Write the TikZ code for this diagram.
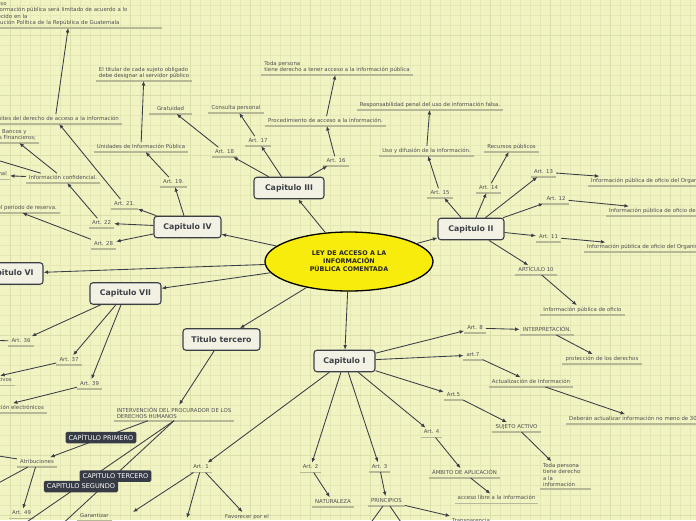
\documentclass[tikz,border=0pt]{standalone}
\usepackage{fontspec}
\setmainfont{DejaVu Sans}
\usetikzlibrary{shapes.geometric,arrows.meta}
\definecolor{bgc}{RGB}{241,243,195}
\definecolor{gridc}{RGB}{229,232,180}
\definecolor{gridm}{RGB}{219,223,168}
\definecolor{linec}{RGB}{58,61,70}
\definecolor{txtc}{RGB}{80,80,80}
\definecolor{ulc}{RGB}{182,184,152}
\definecolor{boxf}{RGB}{243,241,228}
\definecolor{boxd}{RGB}{60,63,70}
\definecolor{darkf}{RGB}{55,59,70}
\definecolor{yel}{RGB}{247,236,12}
\newcommand\smf{\fontsize{5.4}{6.4}\selectfont}
\newcommand\capf{\fontsize{7.8}{9}\selectfont\bfseries}
\begin{document}
\begin{tikzpicture}[x=1pt,y=-1pt,
 ulstyle/.style={append after command={(\tikzlastnode.south west) edge[draw=ulc,line width=1.6pt,-] (\tikzlastnode.south east)}},
 lbl/.style={font=\smf, text=txtc, inner xsep=3pt, inner ysep=2pt, text height=4pt, text depth=1.4pt, anchor=south, ulstyle},
 mlbl/.style={font=\smf, text=txtc, inner xsep=3pt, inner ysep=2pt, align=left, anchor=south, ulstyle},
 capbox/.style={draw=boxd, fill=boxf, line width=1.1pt, rounded corners=3pt, font=\capf, text=boxd, minimum height=21.5pt, inner xsep=2pt},
 darklbl/.style={fill=darkf, text=white, font=\fontsize{6.6}{8}\selectfont, rounded corners=1.5pt, minimum height=11.5pt, inner xsep=3pt, inner ysep=1pt},
 conn/.style={draw=linec, line width=0.85pt, -{Latex[length=4.5pt,width=3.8pt]}},
]
\useasboundingbox (0,0) rectangle (696,520);
\clip (0,0) rectangle (696,520);
\fill[bgc] (0,0) rectangle (696,520);
\foreach \x in {10,20,...,690} \draw[gridc,line width=0.6pt] (\x,0) -- (\x,520);
\foreach \y in {5,15,...,515} \draw[gridc,line width=0.6pt] (0,\y) -- (696,\y);
\foreach \x in {10,70,...,670} \draw[gridm,line width=0.8pt] (\x,0) -- (\x,520);
\foreach \y in {35,95,...,515} \draw[gridm,line width=0.8pt] (0,\y) -- (696,\y);

% central
\node[ellipse, draw=black, line width=1.3pt, fill=yel, minimum width=168pt, minimum height=59pt, align=center, font=\fontsize{6.4}{8}\selectfont\bfseries, text=black!85] (root) at (349,261.5) {LEY DE ACCESO A LA\\INFORMACIÓN\\PÚBLICA COMENTADA};

% chapters
\node[capbox, minimum width=70pt] (c3) at (289,188) {Capitulo III};
\node[capbox, minimum width=66pt] (c2) at (471,229) {Capitulo II};
\node[capbox, minimum width=67pt] (c4) at (187.5,227) {Capitulo IV};
\node[capbox, minimum width=67pt] (c6) at (9.5,273.5) {Capitulo VI};
\node[capbox, minimum width=71pt] (c7) at (125.5,293.5) {Capitulo VII};
\node[capbox, minimum width=77pt] (tt) at (221.5,339.5) {Titulo tercero};
\node[capbox, minimum width=61pt] (c1) at (344.5,361) {Capitulo I};

% Capitulo IV branch
\node[mlbl, anchor=south west, text width=178pt] (lim) at (-22,28) {El acceso\\a la información pública será limitado de acuerdo a lo\\establecido en la\\Constitución Política de la República de Guatemala};
\node[lbl, anchor=south east] (lim2) at (122,124) {Límites del derecho de acceso a la información};
\node[mlbl, anchor=south west] (banc) at (-20.6,143) {Ley de Bancos y\\Grupos Financieros;};
\node[lbl, anchor=south east] (secp) at (10,179.5) {Secreto profesional};
\node[lbl] (conf) at (63,183) {Información confidencial.};
\node[lbl, anchor=south east] (per) at (60,213) {Ampliación del período de reserva.};
\node[lbl] (a21) at (124.5,209) {Art. 21.};
\node[lbl] (a22) at (101.5,228) {Art. 22};
\node[lbl] (a28) at (103.5,249) {Art. 28};
\node[lbl] (a19) at (173.5,187) {Art. 19.};
\node[lbl] (uip) at (141,152) {Unidades de Información Pública};
\node[mlbl] (tit) at (144,81) {El titular de cada sujeto obligado\\debe designar al servidor público};
\coordinate (offbl) at (-30,152);

% Capitulo III branch
\node[lbl] (a18) at (224.5,157) {Art. 18};
\node[lbl, minimum width=43pt] (grat) at (170.5,114) {Gratuidad};
\node[lbl] (a17) at (258,146) {Art. 17};
\node[lbl] (cons) at (236,113) {Consulta personal};
\node[lbl] (a16) at (336,166) {Art. 16};
\node[lbl] (proc) at (325.5,126) {Procedimiento de acceso a la información.};
\node[mlbl] (toda1) at (337,75) {Toda persona\\tiene derecho a tener acceso a la información pública};

% Capitulo II branch
\node[lbl] (a15) at (440,198) {Art. 15};
\node[lbl] (uso) at (426.5,156) {Uso y difusión de la información.};
\node[lbl] (resp) at (430,110) {Responsabilidad penal del uso de información falsa.};
\node[lbl] (a14) at (488.5,193) {Art. 14};
\node[lbl] (rec) at (511.5,152) {Recursos públicos};
\node[lbl] (a13) at (543.5,177) {Art. 13};
\node[lbl, anchor=south west] (io13) at (588,186) {Información pública de oficio del Organismo Legislativo};
\node[lbl] (a12) at (556,204) {Art. 12};
\node[lbl, anchor=south west] (io12) at (606,216) {Información pública de oficio del Organismo Judicial};
\node[lbl] (a11) at (548.5,242) {Art. 11};
\node[lbl, anchor=south west] (io11) at (584,252) {Información pública de oficio del Organismo Ejecutivo};
\node[lbl] (art10) at (536,275) {ARTÍCULO 10};
\node[lbl] (io10) at (582.5,315) {Información pública de oficio};

% Capitulo I branch
\node[lbl] (a8) at (475,333) {Art. 8};
\node[lbl] (interp) at (547,335) {INTERPRETACIÓN.};
\node[lbl] (prot) at (602,364) {protección de los derechos};
\node[lbl] (a7) at (473,360) {art.7};
\node[lbl] (act) at (531,387) {Actualización de Información};
\node[lbl, anchor=south west] (deb) at (566,424) {Deberán actualizar información no meno de 30 días};
\node[lbl] (a5) at (453.5,400) {Art.5};
\node[lbl] (suj) at (516.5,432) {SUJETO ACTIVO};
\node[mlbl, text width=45pt] (toda2) at (565.5,489) {Toda persona\\tiene derecho\\a la\\información};
\node[lbl] (a4) at (431.5,437.5) {Art. 4};
\node[lbl] (amb) at (464.5,478) {ÁMBITO DE APLICACIÓN};
\node[lbl] (lib) at (496.5,503.5) {acceso libre a la información};
\node[lbl] (a3) at (379.5,472) {Art. 3};
\node[lbl] (prin) at (386.5,506) {PRINCIPIOS};
\node[lbl, anchor=north west] (trans) at (449,516) {Transparencia};
\node[lbl] (a2) at (310.5,472.5) {Art. 2};
\node[lbl] (nat) at (333,507) {NATURALEZA};
\node[lbl] (a1) at (201,472.5) {Art. 1};
\node[lbl, anchor=north west] (gar) at (77,511) {Garantizar};
\node[lbl, anchor=north west] (fav) at (222,512) {Favorecer por el};
\coordinate (pr1) at (367,528);
\coordinate (pr2) at (405,528);
\coordinate (a1t1) at (133,512);
\coordinate (a1t2) at (187,518);

% Titulo tercero branch
\node[mlbl] (interv) at (174,420.7) {INTERVENCIÓN DEL PROCURADOR DE LOS\\DERECHOS HUMANOS};
\node[lbl] (atr) at (37,467) {Atribuciones};
\node[lbl] (a49) at (21.5,518.5) {Art. 49};
\coordinate (offA) at (18,528);
\coordinate (offB) at (58,528);
\coordinate (offatr1) at (-20,453);
\coordinate (offatr2) at (-20,493);

% Capitulo VII branch
\node[lbl] (a36) at (21,346) {Art. 36};
\node[lbl] (a37) at (69,365) {Art. 37};
\node[lbl] (a39) at (89.5,389) {Art. 39};
\node[lbl, anchor=south east] (arch) at (15,385.5) {Archivos administrativos};
\node[lbl, anchor=south east] (elec) at (47,413) {Sistemas de información electrónicos};
\coordinate (off36) at (-20,340);

% connectors
\foreach \t in {c3,c4,c2,c6,c7,tt,c1} \draw[conn] (root) -- (\t);
\foreach \t in {a18,a17,a16} \draw[conn] (c3) -- (\t);
\draw[conn] (a18) -- (grat);
\draw[conn] (a17) -- (cons);
\draw[conn] (a16) -- (proc);
\draw[conn] (proc) -- (toda1);
\foreach \t in {a19,a21,a22,a28} \draw[conn] (c4) -- (\t);
\draw[conn] (a19) -- (uip);
\draw[conn] (uip) -- (tit);
\draw[conn] (a21) -- (lim2);
\draw[conn] (lim2) -- (lim);
\draw[conn] (a22) -- (conf);
\draw[conn] (conf) -- (banc);
\draw[conn] (conf) -- (secp);
\draw[conn] ([xshift=15pt]conf.north west) -- (offbl);
\draw[conn] (a28) -- (per);
\foreach \t in {a15,a14,a13,a12,a11,art10} \draw[conn] (c2) -- (\t);
\draw[conn] (a15) -- (uso);
\draw[conn] (uso) -- (resp);
\draw[conn] (a14) -- (rec);
\draw[conn] (a13) -- (io13);
\draw[conn] (a12) -- (io12);
\draw[conn] (a11) -- (io11);
\draw[conn] (art10) -- (io10);
\foreach \t in {a8,a7,a5,a4,a3,a2,a1} \draw[conn] (c1) -- (\t);
\draw[conn] (a8) -- (interp);
\draw[conn] (interp) -- (prot);
\draw[conn] (a7) -- (act);
\draw[conn] (act) -- (deb);
\draw[conn] (a5) -- (suj);
\draw[conn] (suj) -- (toda2);
\draw[conn] (a4) -- (amb);
\draw[conn] (amb) -- (lib);
\draw[conn] (a3) -- (prin);
\draw[conn] (prin) -- (pr1);
\draw[conn] (prin) -- (pr2);
\draw[conn] (prin) -- (trans);
\draw[conn] (a2) -- (nat);
\draw[conn] (a1) -- (a1t1);
\draw[conn] (a1) -- (a1t2);
\draw[conn] (a1) -- (fav);
\draw[conn] (tt) -- (interv);
\draw[conn] ([xshift=-26pt]interv.south) -- (atr);
\draw[conn] (interv.south) -- (offA);
\draw[conn] (interv.south) -- (offB);
\draw[conn] (atr) -- (a49);
\draw[conn] (atr) -- (offatr1);
\draw[conn] (atr) -- (offatr2);
\foreach \t in {a36,a37,a39} \draw[conn] (c7) -- (\t);
\draw[conn] (a36) -- (off36);
\draw[conn] (a37) -- (arch);
\draw[conn] (a39) -- (elec);

% connector captions
\node[darklbl] (dp) at (101,437.5) {CAPÍTULO PRIMERO};
\node[darklbl] (dt) at (115.5,476) {CAPITULO TERCERO};
\node[darklbl] (ds) at (81,486.5) {CAPITULO SEGUNDO};
\end{tikzpicture}
\end{document}
